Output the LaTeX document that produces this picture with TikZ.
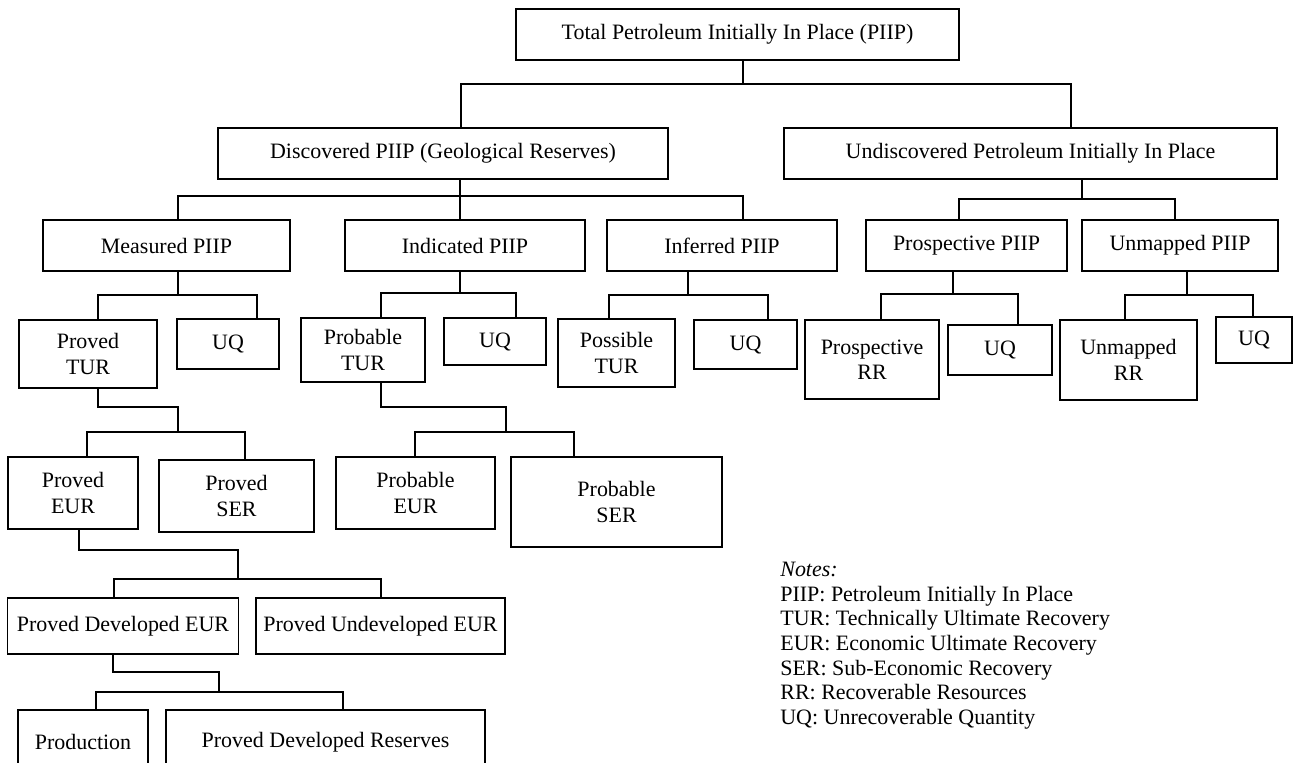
\documentclass[tikz,border=0pt]{standalone}
\usepackage{fontspec}
\setmainfont{Liberation Serif}

\tikzset{
  box/.style={draw, line width=1pt, align=center, inner sep=1pt,
    font=\fontsize{12.5}{14.5}\selectfont},
  boxsize/.style 2 args={minimum width=#1*0.02cm, minimum height=#2*0.02cm},
  link/.style={line width=1pt}
}

\begin{document}
\begin{tikzpicture}[x=0.02cm,y=-0.02cm]
\useasboundingbox (0,0) rectangle (1293,762);
\clip (0,0) rectangle (1293,762);

\node[box,boxsize={443}{51}] (total) at (737.5,34.5) {Total Petroleum Initially In Place (PIIP)};
\node[box,boxsize={450}{51}] (disc) at (443,153.5) {Discovered PIIP (Geological Reserves)};
\node[box,boxsize={493}{51}] (undisc) at (1030.5,153.5) {Undiscovered Petroleum Initially In Place};

\node[box,boxsize={247}{51}] (meas) at (166.5,245.5) {Measured PIIP};
\node[box,boxsize={240}{51}] (ind) at (465,245.5) {Indicated PIIP};
\node[box,boxsize={230}{51}] (inf) at (722,245.5) {Inferred PIIP};
\node[box,boxsize={201}{51}] (prosp) at (966.5,245.5) {Prospective PIIP};
\node[box,boxsize={196}{51}] (unmap) at (1180,245.5) {Unmapped PIIP};

\node[box,boxsize={138}{68}] (provtur) at (88,354) {Proved\\TUR};
\node[box,boxsize={102}{50}] (uqa) at (228,344) {UQ};
\node[box,boxsize={124}{64}] (probtur) at (363,350) {Probable\\TUR};
\node[box,boxsize={102}{47}] (uqb) at (495,341.5) {UQ};
\node[box,boxsize={117}{68}] (posstur) at (616.5,353) {Possible\\TUR};
\node[box,boxsize={103}{49}] (uqc) at (745.5,344.5) {UQ};
\node[box,boxsize={134}{79}] (prosprr) at (872,359.5) {Prospective\\RR};
\node[box,boxsize={104}{50}] (uqd) at (1000,350) {UQ};
\node[box,boxsize={137}{80}] (unmaprr) at (1128.5,360) {Unmapped\\RR};
\node[box,boxsize={76}{46}] (uqe) at (1254,340) {UQ};

\node[box,boxsize={130}{72}] (proveur) at (73,493) {Proved\\EUR};
\node[box,boxsize={155}{72}] (provser) at (236.5,496) {Proved\\SER};
\node[box,boxsize={159}{72}] (probeur) at (415.5,493) {Probable\\EUR};
\node[box,boxsize={211}{90}] (probser) at (616.5,502) {Probable\\SER};

\node[box,boxsize={231}{56}] (pdeur) at (123,626) {Proved Developed EUR};
\node[box,boxsize={249}{56}] (pueur) at (380.5,626) {Proved Undeveloped EUR};

\node[box,boxsize={130}{64}] (prod) at (83,742) {Production};
\node[box,boxsize={319}{64}] (pdres) at (325.5,742) {Proved Developed Reserves};

\node[anchor=north west, align=left, inner sep=0pt,
  font=\fontsize{12.5}{14}\selectfont] (notes) at (780,562)
  {\textit{Notes:}\\
   PIIP: Petroleum Initially In Place\\
   TUR: Technically Ultimate Recovery\\
   EUR: Economic Ultimate Recovery\\
   SER: Sub-Economic Recovery\\
   RR: Recoverable Resources\\
   UQ: Unrecoverable Quantity};

\draw[link] (total.south -| 743,0) -- (743,84);
\draw[link] (disc.north -| 461,0) |- (1071,84) -- (undisc.north -| 1071,0);

\draw[link] (disc.south -| 460,0) -- (ind.north -| 460,0);
\draw[link] (meas.north -| 178,0) |- (743,196) -- (inf.north -| 743,0);
\draw[link] (undisc.south -| 1082,0) -- (1082,199);
\draw[link] (prosp.north -| 959,0) |- (1175,199) -- (unmap.north -| 1175,0);

\draw[link] (meas.south -| 178,0) -- (178,295);
\draw[link] (provtur.north -| 98,0) |- (257,295) -- (uqa.north -| 257,0);
\draw[link] (ind.south -| 460,0) -- (460,293);
\draw[link] (probtur.north -| 381,0) |- (516,293) -- (uqb.north -| 516,0);
\draw[link] (inf.south -| 688,0) -- (688,295);
\draw[link] (posstur.north -| 609,0) |- (768,295) -- (uqc.north -| 768,0);
\draw[link] (prosp.south -| 953,0) -- (953,294);
\draw[link] (prosprr.north -| 881,0) |- (1018,294) -- (uqd.north -| 1018,0);
\draw[link] (unmap.south -| 1187,0) -- (1187,295);
\draw[link] (unmaprr.north -| 1125,0) |- (1253,295) -- (uqe.north -| 1253,0);

\draw[link] (provtur.south -| 98,0) |- (178,407) -- (178,432);
\draw[link] (proveur.north -| 87,0) |- (245,432) -- (provser.north -| 245,0);
\draw[link] (probtur.south -| 381,0) |- (506,407) -- (506,432);
\draw[link] (probeur.north -| 415,0) |- (574,432) -- (probser.north -| 574,0);

\draw[link] (proveur.south -| 79,0) |- (238,550) -- (238,579);
\draw[link] (pdeur.north -| 114,0) |- (381,579) -- (pueur.north -| 381,0);
\draw[link] (pdeur.south -| 113,0) |- (219,672) -- (219,692);
\draw[link] (prod.north -| 96,0) |- (343,692) -- (pdres.north -| 343,0);
\end{tikzpicture}
\end{document}
